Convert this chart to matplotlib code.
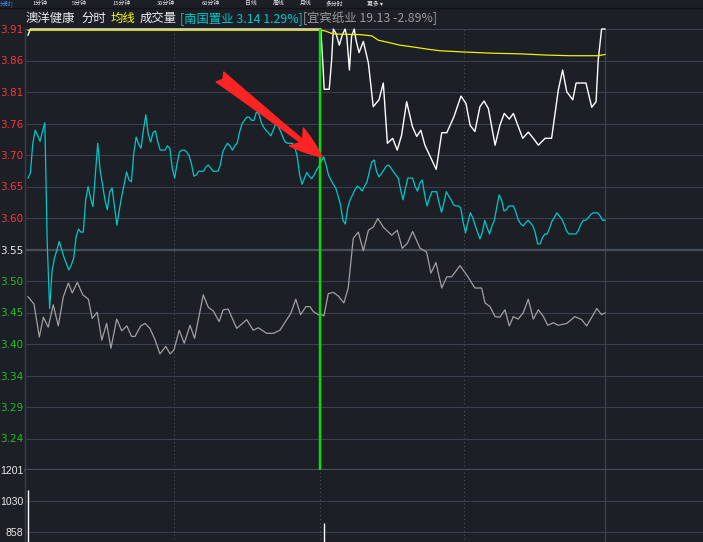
import numpy as np
import matplotlib.pyplot as plt
from matplotlib.lines import Line2D

# ---- data -------------------------------------------------------------------
# minute index 0..240, prices on the left axis scale (prev close 3.55)
cyan_minutes = np.arange(241)
cyan_price = [
    3.665, 3.673, 3.721, 3.742, 3.734, 3.724, 3.740, 3.754, 3.560, 3.455,
    3.515, 3.536, 3.549, 3.563, 3.550, 3.537, 3.527, 3.517, 3.525, 3.536,
    3.570, 3.583, 3.578, 3.578, 3.630, 3.651, 3.633, 3.619, 3.670, 3.721,
    3.678, 3.654, 3.630, 3.614, 3.643, 3.649, 3.618, 3.589, 3.614, 3.636,
    3.655, 3.675, 3.662, 3.659, 3.705, 3.731, 3.720, 3.713, 3.742, 3.767,
    3.736, 3.723, 3.738, 3.741, 3.723, 3.710, 3.710, 3.710, 3.717, 3.713,
    3.681, 3.665, 3.688, 3.707, 3.710, 3.710, 3.707, 3.701, 3.688, 3.668,
    3.670, 3.676, 3.676, 3.676, 3.683, 3.686, 3.681, 3.676, 3.676, 3.676,
    3.686, 3.707, 3.715, 3.721, 3.717, 3.710, 3.717, 3.721, 3.739, 3.752,
    3.758, 3.763, 3.763, 3.758, 3.758, 3.771, 3.769, 3.755, 3.747, 3.742,
    3.738, 3.733, 3.742, 3.752, 3.749, 3.741, 3.731, 3.723, 3.721, 3.721,
    3.721, 3.715, 3.699, 3.670, 3.655, 3.665, 3.674, 3.668, 3.664, 3.670,
    3.678, 3.684, 3.692, 3.699, 3.686, 3.670, 3.662, 3.655, 3.649, 3.636,
    3.622, 3.597, 3.591, 3.617, 3.630, 3.638, 3.646, 3.652, 3.649, 3.644,
    3.652, 3.659, 3.675, 3.691, 3.694, 3.675, 3.667, 3.672, 3.678, 3.684,
    3.686, 3.681, 3.675, 3.670, 3.665, 3.646, 3.630, 3.649, 3.665, 3.665,
    3.665, 3.652, 3.644, 3.657, 3.662, 3.638, 3.620, 3.633, 3.643, 3.643,
    3.643, 3.625, 3.610, 3.625, 3.643, 3.636, 3.630, 3.622, 3.620, 3.620,
    3.617, 3.594, 3.577, 3.594, 3.609, 3.601, 3.589, 3.578, 3.567, 3.578,
    3.597, 3.585, 3.575, 3.588, 3.597, 3.618, 3.638, 3.630, 3.612, 3.614,
    3.620, 3.620, 3.620, 3.609, 3.597, 3.591, 3.588, 3.593, 3.597, 3.593,
    3.588, 3.577, 3.559, 3.559, 3.569, 3.575, 3.575, 3.585, 3.596, 3.602,
    3.609, 3.604, 3.599, 3.591, 3.580, 3.575, 3.575, 3.575, 3.575, 3.581,
    3.591, 3.597, 3.597, 3.601, 3.606, 3.609, 3.609, 3.609, 3.604, 3.597, 3.597,
]

gray_minutes = [
    0, 2.5, 3.6, 4.7, 6.4, 8.4, 10.5, 12.6, 14.7, 16.8, 18.4, 20.5, 22.8, 25.1,
    26.7, 28.8, 30.7, 32.7, 34.5, 36.9, 39, 41.1, 43.1, 44.5, 46.9, 48.7, 50.7,
    52.8, 54.9, 57.3, 59.1, 60.7, 62.9, 65, 67.4, 69.3, 72.9, 75, 77.1, 79.5,
    81.2, 83.3, 86.8, 91, 93.7, 95.8, 99.3, 102, 104.8, 107.6, 109.3, 111.4,
    113.4, 115.6, 117.3, 118.7, 120.8, 122.2, 123.1, 124.9, 127, 129.1, 131.4,
    133.2, 135.3, 137.4, 139.5, 141.6, 143.6, 145.5, 147.8, 151.3, 153.6,
    155.7, 157.8, 160, 163.1, 165.8, 167.6, 169.7, 172.1, 174.2, 176.2, 179.7,
    182.5, 185.9, 188.7, 190.1, 192.2, 194.3, 196.3, 198.4, 200.2, 201.9,
    203.9, 206, 208.1, 210.2, 212.3, 214.4, 216.2, 218.5, 220.6, 224.1, 227.5,
    230.3, 232.4, 236.6, 238.6, 240,
]
gray_price = [
    3.474, 3.462, 3.436, 3.409, 3.441, 3.425, 3.461, 3.427, 3.474, 3.496, 3.480,
    3.497, 3.477, 3.470, 3.439, 3.449, 3.404, 3.431, 3.391, 3.438, 3.419, 3.427,
    3.410, 3.410, 3.427, 3.431, 3.423, 3.405, 3.382, 3.394, 3.382, 3.388, 3.420,
    3.399, 3.428, 3.407, 3.477, 3.457, 3.451, 3.434, 3.453, 3.454, 3.423, 3.437,
    3.420, 3.424, 3.415, 3.415, 3.420, 3.437, 3.447, 3.470, 3.445, 3.458, 3.458,
    3.450, 3.445, 3.445, 3.443, 3.479, 3.481, 3.475, 3.464, 3.488, 3.568, 3.578,
    3.548, 3.581, 3.586, 3.600, 3.586, 3.573, 3.581, 3.552, 3.560, 3.579, 3.552,
    3.546, 3.512, 3.529, 3.488, 3.506, 3.506, 3.524, 3.509, 3.488, 3.488, 3.464,
    3.458, 3.442, 3.441, 3.453, 3.427, 3.442, 3.438, 3.448, 3.470, 3.438, 3.453,
    3.442, 3.428, 3.432, 3.428, 3.431, 3.442, 3.437, 3.427, 3.455, 3.445, 3.448,
]

white_minutes = [
    0, 1, 121.8, 122.8, 123.2, 125.3, 126.3, 127, 128.1, 129.5, 130.7, 131.9,
    132.6, 133.7, 134.6, 135.7, 136.4, 137.7, 139.5, 141.6, 143.6, 146, 147.8,
    149.5, 151.7, 153.6, 155.4, 157.5, 159.9, 161.7, 163.4, 165.1, 169.8, 172.1,
    174.2, 177.2, 180.1, 182.2, 183.9, 185.9, 188, 189.7, 191.5, 194.3, 196.3,
    198.1, 200.2, 201.9, 205.8, 208.1, 210.2, 212.3, 215.1, 217.8, 220.6, 222.4,
    224.1, 226.6, 228, 232.1, 234.5, 236.3, 237.2, 238.6, 240,
]
white_price = [
    3.895, 3.905, 3.905, 3.839, 3.808, 3.808, 3.855, 3.905, 3.898, 3.879, 3.895,
    3.905, 3.893, 3.839, 3.893, 3.905, 3.888, 3.867, 3.885, 3.850, 3.780, 3.791,
    3.818, 3.721, 3.729, 3.710, 3.734, 3.788, 3.748, 3.732, 3.742, 3.718, 3.679,
    3.738, 3.738, 3.764, 3.797, 3.785, 3.750, 3.740, 3.780, 3.789, 3.777, 3.718,
    3.750, 3.769, 3.760, 3.769, 3.729, 3.739, 3.729, 3.718, 3.729, 3.729, 3.807,
    3.839, 3.804, 3.791, 3.818, 3.818, 3.779, 3.788, 3.855, 3.905, 3.905,
]

avg_minutes = [0, 121.5, 123.5, 127, 138.1, 143, 145.7, 149.2, 154.7, 160.3,
               167.2, 171.4, 181.1, 193.6, 204.7, 215.8, 225.5, 237.2, 240]
avg_price = [3.903, 3.903, 3.902, 3.897, 3.896, 3.894, 3.887, 3.884, 3.879,
             3.876, 3.872, 3.870, 3.868, 3.866, 3.865, 3.863, 3.862, 3.862, 3.864]

vol_minutes = [0, 123.3]
vol_values = [1090, 908]

price_labels = ["3.91", "3.86", "3.81", "3.76", "3.70", "3.65", "3.60", "3.55",
                "3.50", "3.45", "3.40", "3.34", "3.29", "3.24"]
vol_labels = ["1201", "1030", "858"]

title_parts = [("澳洋健康", 25, "#ececec"), ("分时", 82, "#ececec"),
               ("均线", 111, "#ffff00"), ("成交量", 140, "#ececec"),
               ("[南国置业 3.14 1.29%]", 180, "#00c8c8"),
               ("[宜宾纸业 19.13 -2.89%]", 303, "#9a9a9a")]
menu_parts = [("分时]", 0, "#4a8cff"), ("1分钟", 32, "#e8e8e8"),
              ("5分钟", 72, "#e8e8e8"), ("15分钟", 112, "#e8e8e8"),
              ("30分钟", 157, "#e8e8e8"), ("60分钟", 202, "#e8e8e8"),
              ("日线", 245, "#e8e8e8"), ("周线", 273, "#e8e8e8"),
              ("月线", 300, "#e8e8e8"), ("多分时", 326, "#e8e8e8"),
              ("更多 ▾", 367, "#e8e8e8")]

# ---- layout ------------------------------------------------------------------
W, H = 703, 542
BG = "#1c1f26"
GRID = "#3a3f4b"
CJK = ["Noto Sans CJK SC", "DejaVu Sans"]


def px_rect(x0, y0, x1, y1):
    # pixel box measured from top-left -> figure fraction rect
    return [x0 / W, 1 - y1 / H, (x1 - x0) / W, (y1 - y0) / H]


def mx(px):
    # pixel column -> minute
    return (px - 28) / 2.404


fig = plt.figure(figsize=(W / 100, H / 100), dpi=100)
fig.patch.set_facecolor(BG)

ax = fig.add_axes(px_rect(25, 29, 703, 470))
vax = fig.add_axes(px_rect(25, 470, 703, 687))

p_lo, p_hi = 3.195, 3.905
step = (p_hi - p_lo) / 14
price_ticks = [p_hi - k * step for k in range(14)]

for a in (ax, vax):
    a.set_facecolor(BG)
    a.set_xlim(mx(25), mx(703))
    for s in ("top", "right", "bottom"):
        a.spines[s].set_visible(False)
    a.spines["left"].set_color(GRID)
    a.spines["left"].set_linewidth(1.0)
    a.set_xticks([])
    a.tick_params(axis="y", length=0, pad=1.2)
    for m in (mx(174), mx(319.5), mx(464.5)):
        a.axvline(m, color="#4a505c", lw=0.8, ls=(0, (1, 2.5)), zorder=1)
    a.axvline(240, color=GRID, lw=1.0, zorder=1)

ax.set_ylim(p_lo, p_hi)
for k, p in enumerate(price_ticks):
    ax.axhline(p, color="#474d59" if k == 7 else GRID, lw=1.6 if k == 7 else 0.8, zorder=1)
ax.axhline(p_lo, color="#474d59", lw=1.6, zorder=1, clip_on=False)
ax.set_yticks(price_ticks)
ax.set_yticklabels(price_labels, family="DejaVu Sans", fontsize=7.5)
for k, lbl in enumerate(ax.get_yticklabels()):
    lbl.set_color("#ff3434" if k < 7 else ("#e8e8e8" if k == 7 else "#22c022"))

vmax = 1201
vstep = 171.6
vax.set_ylim(0, vmax)
vticks = [vmax - k * vstep for k in range(3)]
for v in vticks[1:]:
    vax.axhline(v, color=GRID, lw=0.8, zorder=1)
vax.set_yticks(vticks)
vax.set_yticklabels(vol_labels, family="Liberation Sans", fontsize=7.6, color="#e8e8e8")
vax.vlines(vol_minutes, 0, vol_values, color="#ffffff", lw=1.0, zorder=3)

# lines
ax.plot(gray_minutes, gray_price, color="#a0a0a0", lw=0.9, zorder=3)
ax.plot(cyan_minutes, cyan_price, color="#00c8c8", lw=0.9, zorder=3)
ax.plot(white_minutes, white_price, color="#ffffff", lw=1.0, zorder=4, clip_on=False)
ax.plot(avg_minutes, avg_price, color="#f0f000", lw=0.9, zorder=5, clip_on=False)
ax.axvline(mx(319.5), color="#00e400", lw=1.7, zorder=6)

# red arrow
ax.annotate("", xy=(322, H - 157), xytext=(220, H - 77),
            xycoords="figure pixels", textcoords="figure pixels",
            arrowprops=dict(arrowstyle="fancy,head_length=1.3,head_width=0.9,tail_width=0.5",
                            color="#ff2424", shrinkA=0, shrinkB=0, mutation_scale=18),
            zorder=7)

# header rows (the menu strip is only a thin sliver at the very top)
for txt, x, c in title_parts:
    fig.text(x / W, 1 - 18.5 / H, txt, color=c, fontsize=8.9, family=CJK,
             ha="left", va="center")
for txt, x, c in menu_parts:
    fig.text(x / W, 1 - 3.4 / H, txt, color=c, fontsize=4.2, family=CJK,
             ha="left", va="center")
fig.add_artist(Line2D([0, 1], [1 - 7.5 / H, 1 - 7.5 / H], transform=fig.transFigure,
                      color="#121419", lw=1.0))

fig.savefig("out.png", dpi=100, facecolor=BG)
